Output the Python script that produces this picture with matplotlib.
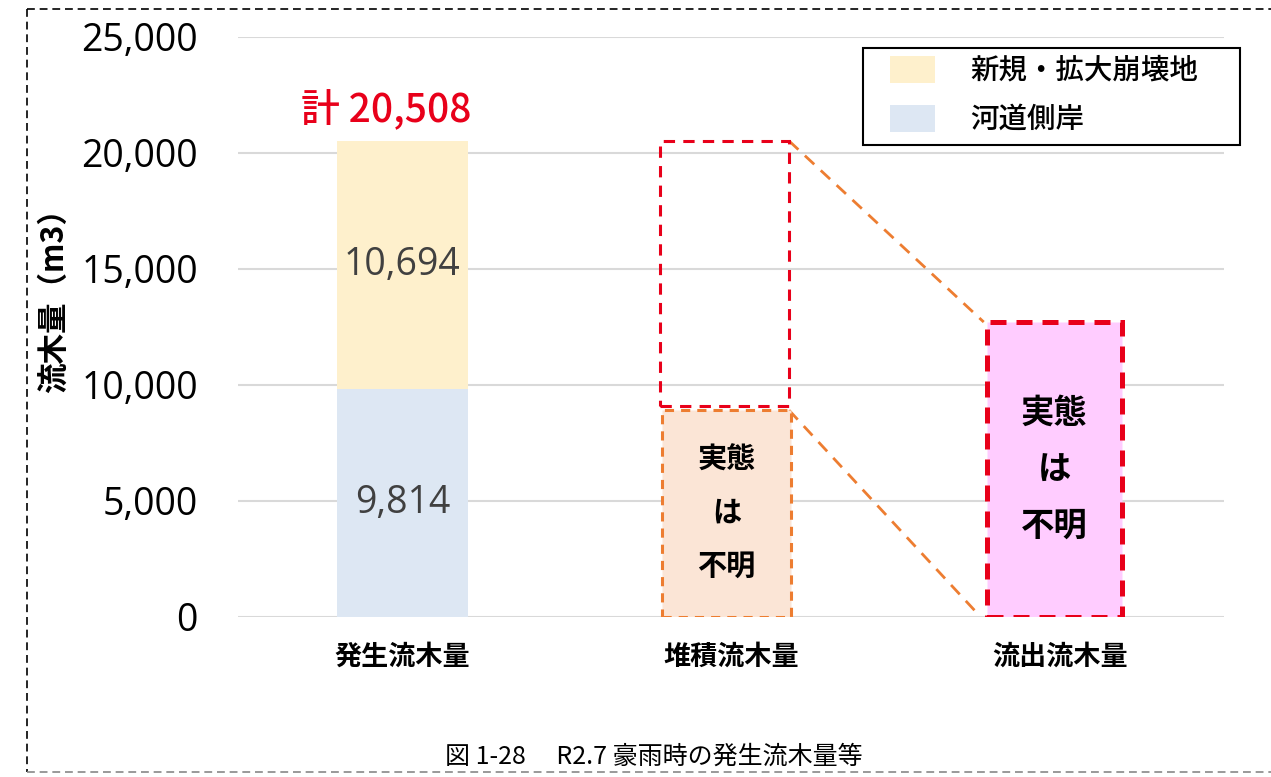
import matplotlib
matplotlib.use('Agg')

import matplotlib.pyplot as plt
from matplotlib.patches import Rectangle
from matplotlib.lines import Line2D

# CJK first, DejaVu as fallback
plt.rcParams['font.family'] = ['Noto Sans CJK JP', 'DejaVu Sans']

# 区分
categories = ['発生流木量', '堆積流木量', '流出流木量']
series_names = ['新規・拡大崩壊地', '河道側岸']

# 発生流木量の内訳 (m3)
new_collapse = 10694
river_bank = 9814
total = 20508

# 堆積・流出は実態不明のため概念的な枠のみ
deposit_gap_range = [9100, 20508]   # 赤破線の枠（下端, 上端）
deposit_box = 8900                  # 堆積流木量の枠
outflow_box = 12700                 # 流出流木量の枠

unknown_label = '実態\nは\n不明'
caption = '図 1-28　 R2.7 豪雨時の発生流木量等'

col_new = '#fef0cc'
col_bank = '#dde7f3'
col_deposit = '#fbe5d6'
col_outflow = '#ffccff'
red = '#e8001a'
orange = '#ed7d31'

W, H = 1271, 777
fig = plt.figure(figsize=(W / 100, H / 100), dpi=100)
ax = fig.add_axes([0.1873, 0.2063, 0.7757, 0.7465])

# 発生流木量（積み上げ）
x0, x1, x2 = 0, 0.98, 1.984
ax.bar(x0, river_bank, width=0.40, color=col_bank, zorder=2)
ax.bar(x0, new_collapse, bottom=river_bank, width=0.40, color=col_new, zorder=2)

ax.text(x0, river_bank / 2, f'{river_bank:,}', ha='center', va='center',
        fontsize=27, color='#404040', family='Open Sans', zorder=3)
ax.text(x0, river_bank + new_collapse / 2, f'{new_collapse:,}', ha='center', va='center',
        fontsize=27, color='#404040', family='Open Sans', zorder=3)
ax.annotate(f'計 {total:,}', xy=(x0, river_bank + new_collapse), xytext=(-12, 7),
            textcoords='offset points', ha='center', va='bottom',
            fontsize=28, color=red, fontweight='medium', zorder=3)

# 堆積流木量：赤破線の空枠 + オレンジ破線の枠
ax.bar(x1, deposit_gap_range[1] - deposit_gap_range[0], bottom=deposit_gap_range[0],
       width=0.393, fill=False, edgecolor=red, linewidth=2.2,
       linestyle=(0, (3.7, 2.7)), zorder=3)
ax.bar(x1 + 0.006, deposit_box, width=0.393, color=col_deposit, edgecolor=orange,
       linewidth=2.2, linestyle=(0, (3.0, 2.3)), zorder=3)
ax.text(x1 + 0.006, 4470, unknown_label, ha='center', va='center',
        fontsize=21, fontweight='bold', linespacing=1.95, zorder=4)

# 流出流木量
ax.bar(x2, outflow_box, width=0.41, color=col_outflow, edgecolor=red,
       linewidth=3.6, linestyle=(0, (3.2, 2.0)), zorder=3)
ax.text(x2, 6323, unknown_label, ha='center', va='center',
        fontsize=24, fontweight='bold', linespacing=1.9, zorder=4)

# 堆積→流出をつなぐ破線
xr = x1 + 0.393 / 2
xl = x2 - 0.41 / 2
ax.plot([xr, xl - 0.01], [deposit_gap_range[1], outflow_box], color=orange,
        linewidth=2.0, linestyle=(0, (4.6, 3.2)), zorder=2, clip_on=False)
ax.plot([xr, xl - 0.02], [deposit_box, 0], color=orange,
        linewidth=2.0, linestyle=(0, (4.6, 3.2)), zorder=2, clip_on=False)

# 軸
ax.set_xlim(-0.5, 2.5)
ax.set_ylim(0, 25000)
ax.set_yticks(range(0, 25001, 5000))
ax.set_yticklabels([f'{v:,}' for v in range(0, 25001, 5000)],
                   family='Open Sans', fontsize=27)
ax.set_xticks([0, 1, 2])
ax.set_xticklabels(categories, fontsize=19.5, fontweight='bold')
ax.tick_params(axis='y', length=0, pad=29)
ax.tick_params(axis='x', length=0, pad=19)
ax.yaxis.grid(True, color='#d9d9d9', linewidth=1.5)
ax.set_axisbelow(True)
for s in ax.spines.values():
    s.set_visible(False)

fig.text(0.0425, 1 - 293 / H, '流木量（m3）', rotation=90, ha='center', va='center',
         fontsize=22, fontweight='bold')

# 凡例（枠・色見本・文字をピクセル位置で配置）
def px(x, y):
    return x / W, 1 - y / H

fig.add_artist(Rectangle(px(863, 145), 377 / W, 97 / H, transform=fig.transFigure,
                         facecolor='white', edgecolor='black', linewidth=1.5))
for name, col, yc in zip(series_names, [col_new, col_bank], [70, 119]):
    fig.add_artist(Rectangle(px(890, yc + 13), 45 / W, 27 / H,
                             transform=fig.transFigure, facecolor=col, edgecolor='none'))
    fig.text(*px(970, yc), name, ha='left', va='center', fontsize=20.5,
             fontweight='medium')

# キャプション
fig.text(654 / W, 1 - 757 / H, caption, ha='center', va='center', fontsize=18)

# 外枠の破線
border = dict(color='black', linewidth=1.2, linestyle=(0, (4.7, 2.9)))
fig.add_artist(Line2D([0.0212, 0.0212], [1 - 9 / H, 1 - 772 / H], **border))
fig.add_artist(Line2D([0.0212, 1.0], [1 - 9 / H, 1 - 9 / H], **border))
fig.add_artist(Line2D([0.0212, 1.0], [1 - 772 / H, 1 - 772 / H],
                      color='#888888', linewidth=1.2, linestyle=(0, (4.7, 2.9))))

fig.savefig('out.png', dpi=100)
